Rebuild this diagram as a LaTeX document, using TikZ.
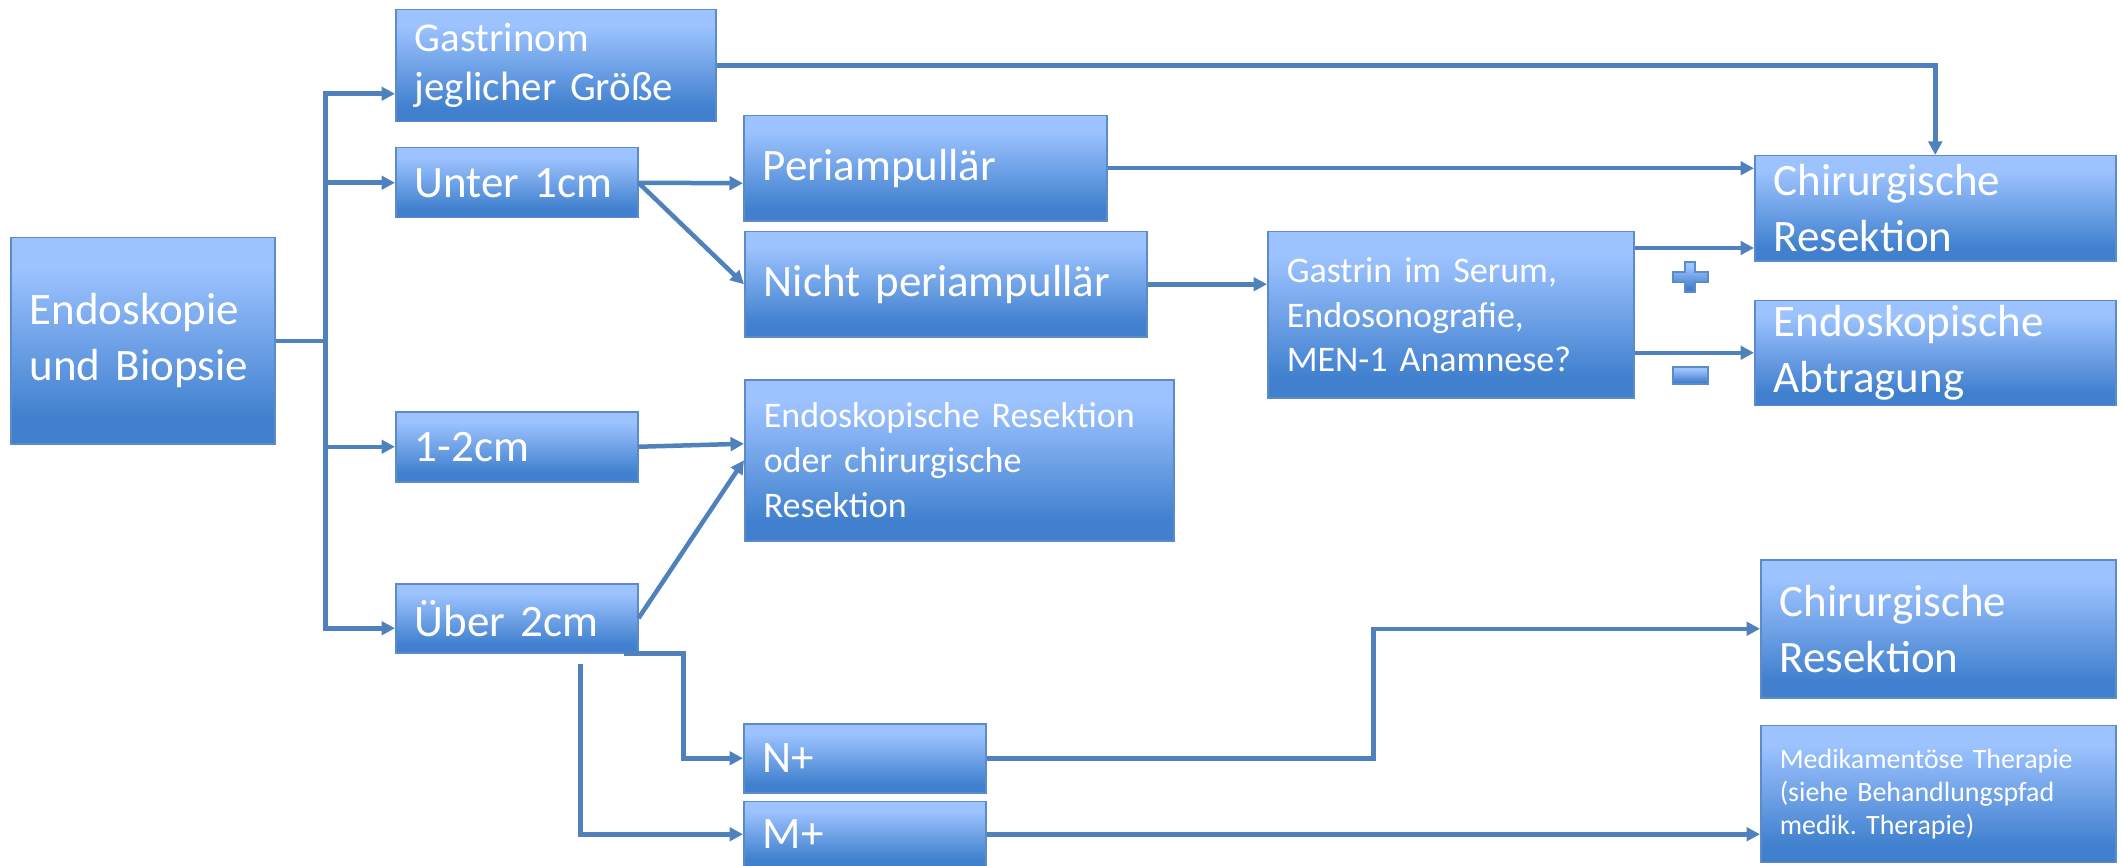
\documentclass[tikz,border=0pt]{standalone}
\usepackage{fontspec}
\setmainfont{Carlito}
\usepackage{tikz}
\usetikzlibrary{positioning, arrows.meta}
\frenchspacing
\definecolor{boxtop}{HTML}{9DC3FF}
\definecolor{boxbot}{HTML}{4080CE}
\definecolor{boxline}{HTML}{5B8CC9}
\definecolor{linecol}{HTML}{4F81BD}
\pgfdeclareverticalshading{boxshade}{100bp}{color(0bp)=(boxbot); color(31bp)=(boxbot); color(68bp)=(boxtop); color(100bp)=(boxtop)}

\begin{document}
\begin{tikzpicture}[x=0.2mm, y=-0.2mm,
  box/.style={draw=boxline, line width=0.3mm, shade, shading=boxshade, text=white,
    anchor=north west, align=left, inner xsep=3.8mm, inner ysep=0pt},
  txtbig/.style={font=\fontsize{25.6}{31.9}\selectfont},
  txtmid/.style={font=\fontsize{23.3}{27.9}\selectfont},
  txtsml/.style={font=\fontsize{20.5}{25.6}\selectfont},
  txttiny/.style={font=\fontsize{15.9}{18.8}\selectfont},
  conn/.style={draw=linecol, line width=0.9mm},
  arr/.style={conn, -{Triangle[length=2.7mm,width=2.7mm]}},
  sign/.style={draw=boxline, line width=0.3mm, shade, shading=boxshade}]

\useasboundingbox (0,0) rectangle (2122,866);

\node[box, txtbig, text width=45.2mm, minimum height=41.2mm] (endo) at (10,237) {Endoskopie\\und Biopsie};
\node[box, txtmid, text width=56.4mm, minimum height=22.4mm] (gastrinom) at (395,9) {Gastrinom\\jeglicher Größe};
\node[box, txtbig, text width=40.8mm, minimum height=14mm] (unter) at (395,147) {Unter 1cm};
\node[box, txtbig, text width=40.8mm, minimum height=14mm] (einszwei) at (395,411) {1-2cm};
\node[box, txtbig, text width=40.8mm, minimum height=13.8mm] (ueber) at (395,583) {Über 2cm};
\node[box, txtbig, text width=65mm, minimum height=21mm] (periamp) at (743,115) {Periampullär};
\node[box, txtbig, text width=72.8mm, minimum height=21mm] (nichtperi) at (744,231) {Nicht periampullär};
\node[box, txtsml, text width=78.2mm, minimum height=32.2mm] (endores) at (744,379) {Endoskopische Resektion\\oder chirurgische\\Resektion};
\node[box, txtbig, text width=40.8mm, minimum height=13.8mm] (nplus) at (743,723) {N+};
\node[box, txtbig, text width=40.8mm, minimum height=13.2mm] (mplus) [below=1.4mm of nplus] {M+};
\node[box, txtsml, text width=65.6mm, minimum height=33.2mm] (gastrin) at (1267,231) {Gastrin im Serum,\\Endosonografie,\\MEN-1 Anamnese?};
\node[box, txtbig, text width=64.6mm, minimum height=21mm] (chirA) at (1754,155) {Chirurgische\\Resektion};
\node[box, txtbig, text width=64.6mm, minimum height=21mm] (abtrag) [below=7.6mm of chirA] {Endoskopische\\Abtragung};
\node[box, txtbig, text width=63.4mm, minimum height=27.6mm] (chirB) at (1760,559) {Chirurgische\\Resektion};
\node[box, txttiny, text width=63.4mm, minimum height=27.4mm] (medik) [below=5.2mm of chirB] {Medikamentöse Therapie\\(siehe Behandlungspfad\\medik. Therapie)};

\path[sign] (1685,262) -- (1695,262) -- (1695,272) -- (1708,272) -- (1708,282) -- (1695,282)
  -- (1695,292) -- (1685,292) -- (1685,282) -- (1673,282) -- (1673,272) -- (1685,272) -- cycle;
\path[sign] (1673,367) rectangle (1708,384);

\coordinate (split) at ([xshift=10mm]endo.east);
\draw[conn] (endo.east) -- (split);
\draw[arr] (split) |- ([yshift=-5.6mm]gastrinom.west);
\draw[arr] (split) |- (unter.west);
\draw[arr] (split) |- (einszwei.west);
\draw[arr] (split) |- ([yshift=-2mm]ueber.west);

\draw[arr] (unter.east) -- ([yshift=-3mm]periamp.west);
\draw[arr] (unter.east) -- (nichtperi.west);
\draw[arr] (gastrinom.east) -| (chirA.north);
\draw[arr] (periamp.east) -- (periamp.east -| chirA.west);
\draw[arr] (nichtperi.east) -- (nichtperi.east -| gastrin.west);
\coordinate (gplus) at ([yshift=-3.4mm]gastrin.north east);
\draw[arr] (gplus) -- (gplus -| chirA.west);
\draw[arr] (abtrag.west -| gastrin.east) -- (abtrag.west);

\draw[arr] (einszwei.east) -- ([yshift=3.3mm]endores.west);
\draw[arr] (ueber.east) -- (endores.west);
\draw[arr] ([xshift=-3mm]ueber.south east) -- ++(60,0) |- (nplus.west);
\draw[arr] ([xshift=-11.6mm,yshift=-2mm]ueber.south east) |- (mplus.west);
\draw[arr] (nplus.east) -- ++(387,0) |- (chirB.west);
\draw[arr] (mplus.east) -- (mplus.east -| medik.west);
\end{tikzpicture}
\end{document}
